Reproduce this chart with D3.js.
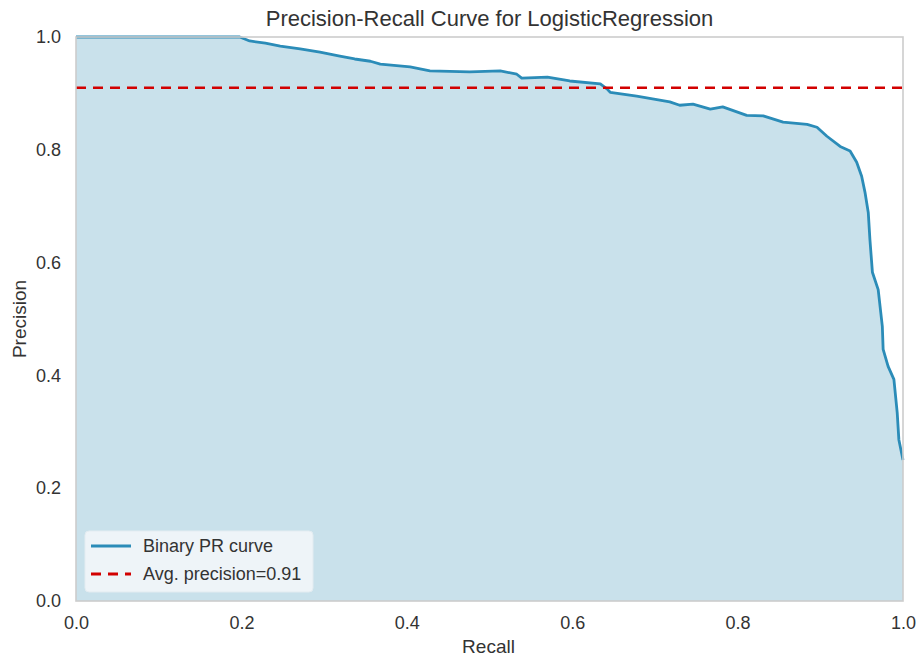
<!DOCTYPE html>
<html>
<head>
<meta charset="utf-8">
<script src="https://cdn.jsdelivr.net/npm/d3@7"></script>
<style>
  body { margin: 0; background: #fff; }
  text { font-family: "Liberation Sans", Arial, sans-serif; }
</style>
</head>
<body>
<svg id="chart" width="918" height="659"></svg>
<script>
// curve points
var recall = [0, 0.198, 0.210, 0.229, 0.247, 0.271, 0.295, 0.319, 0.337, 0.356,
  0.368, 0.404, 0.428, 0.476, 0.513, 0.533, 0.539, 0.570, 0.597, 0.634,
  0.642, 0.646, 0.678, 0.718, 0.730, 0.746, 0.767, 0.782, 0.811, 0.831,
  0.855, 0.884, 0.896, 0.908, 0.924, 0.936, 0.944, 0.950, 0.954, 0.958,
  0.960, 0.963, 0.970, 0.975, 0.976, 0.982, 0.989, 0.993, 0.995, 1.0];
var precision = [1.0, 1.0, 0.993, 0.989, 0.984, 0.979, 0.973, 0.966, 0.961, 0.957,
  0.952, 0.947, 0.940, 0.938, 0.940, 0.934, 0.927, 0.929, 0.922, 0.917,
  0.908, 0.902, 0.895, 0.885, 0.879, 0.881, 0.872, 0.876, 0.861, 0.860,
  0.849, 0.845, 0.840, 0.824, 0.806, 0.798, 0.778, 0.753, 0.725, 0.689,
  0.641, 0.583, 0.552, 0.487, 0.446, 0.416, 0.393, 0.334, 0.286, 0.250];
var avgPrecision = 0.91;
var ticks = [0, 0.2, 0.4, 0.6, 0.8, 1.0];
var legendLabels = ["Binary PR curve", "Avg. precision=0.91"];

var points = recall.map(function(r, i) { return {r: r, p: precision[i]}; });

var svg = d3.select("#chart"),
    margin = {top: 37, right: 15, bottom: 58, left: 76},
    width = +svg.attr("width") - margin.left - margin.right,
    height = +svg.attr("height") - margin.top - margin.bottom;

var x = d3.scaleLinear().domain([0, 1]).range([0, width]),
    y = d3.scaleLinear().domain([0, 1]).range([height, 0]);

var g = svg.append("g")
    .attr("transform", "translate(" + margin.left + "," + margin.top + ")");

// filled area under the curve
g.append("path")
    .datum(points)
    .attr("fill", "#c9e1eb")
    .attr("d", d3.area()
      .x(function(d) { return x(d.r); })
      .y0(y(0))
      .y1(function(d) { return y(d.p); }));

g.append("path")
    .datum(points)
    .attr("fill", "none")
    .attr("stroke", "#2b8cb8")
    .attr("stroke-width", 2.8)
    .attr("stroke-linejoin", "round")
    .attr("d", d3.line()
      .x(function(d) { return x(d.r); })
      .y(function(d) { return y(d.p); }));

// average precision line
g.append("line")
    .attr("x1", 0).attr("x2", width)
    .attr("y1", y(avgPrecision)).attr("y2", y(avgPrecision))
    .attr("stroke", "#d20000")
    .attr("stroke-width", 2.4)
    .attr("stroke-dasharray", "10,7");

// axes frame
g.append("rect")
    .attr("width", width).attr("height", height)
    .attr("fill", "none")
    .attr("stroke", "#cccccc")
    .attr("stroke-width", 1.6);

var xAxis = g.append("g")
    .attr("transform", "translate(0," + height + ")")
    .call(d3.axisBottom(x).tickValues(ticks).tickFormat(d3.format(".1f")).tickSize(0).tickPadding(15));
var yAxis = g.append("g")
    .call(d3.axisLeft(y).tickValues(ticks).tickFormat(d3.format(".1f")).tickSize(0).tickPadding(15));
[xAxis, yAxis].forEach(function(a) {
  a.select(".domain").remove();
  a.selectAll("text").attr("font-size", "18px").attr("fill", "#333")
    .attr("font-family", "Liberation Sans, Arial, sans-serif");
});

svg.append("text")
    .attr("x", margin.left + width / 2).attr("y", 26)
    .attr("text-anchor", "middle")
    .attr("font-size", "22px").attr("fill", "#333")
    .text("Precision-Recall Curve for LogisticRegression");

svg.append("text")
    .attr("x", margin.left + width / 2 - 1).attr("y", 653)
    .attr("text-anchor", "middle")
    .attr("font-size", "19px").attr("fill", "#333")
    .text("Recall");

svg.append("text")
    .attr("transform", "translate(26," + (margin.top + height / 2) + ") rotate(-90)")
    .attr("text-anchor", "middle")
    .attr("font-size", "19px").attr("fill", "#333")
    .text("Precision");

// legend
var lg = g.append("g").attr("transform", "translate(9," + (height - 70) + ")");
lg.append("rect")
    .attr("width", 228).attr("height", 61)
    .attr("rx", 4)
    .attr("fill", "#eef4f8")
    .attr("stroke", "#e3ecf1");
lg.selectAll(".swatch")
    .data(legendLabels)
    .enter()
    .append("line")
    .attr("x1", 6).attr("x2", 46)
    .attr("y1", function(d, i) { return 15 + i * 28; })
    .attr("y2", function(d, i) { return 15 + i * 28; })
    .attr("stroke", function(d, i) { return i == 0 ? "#2b8cb8" : "#d20000"; })
    .attr("stroke-width", 2.8)
    .attr("stroke-dasharray", function(d, i) { return i == 0 ? null : "10,7"; });
lg.selectAll(".label")
    .data(legendLabels)
    .enter()
    .append("text")
    .attr("x", 58)
    .attr("y", function(d, i) { return 21 + i * 28; })
    .attr("font-size", "18px").attr("fill", "#333")
    .text(function(d) { return d; });
</script>
</body>
</html>
